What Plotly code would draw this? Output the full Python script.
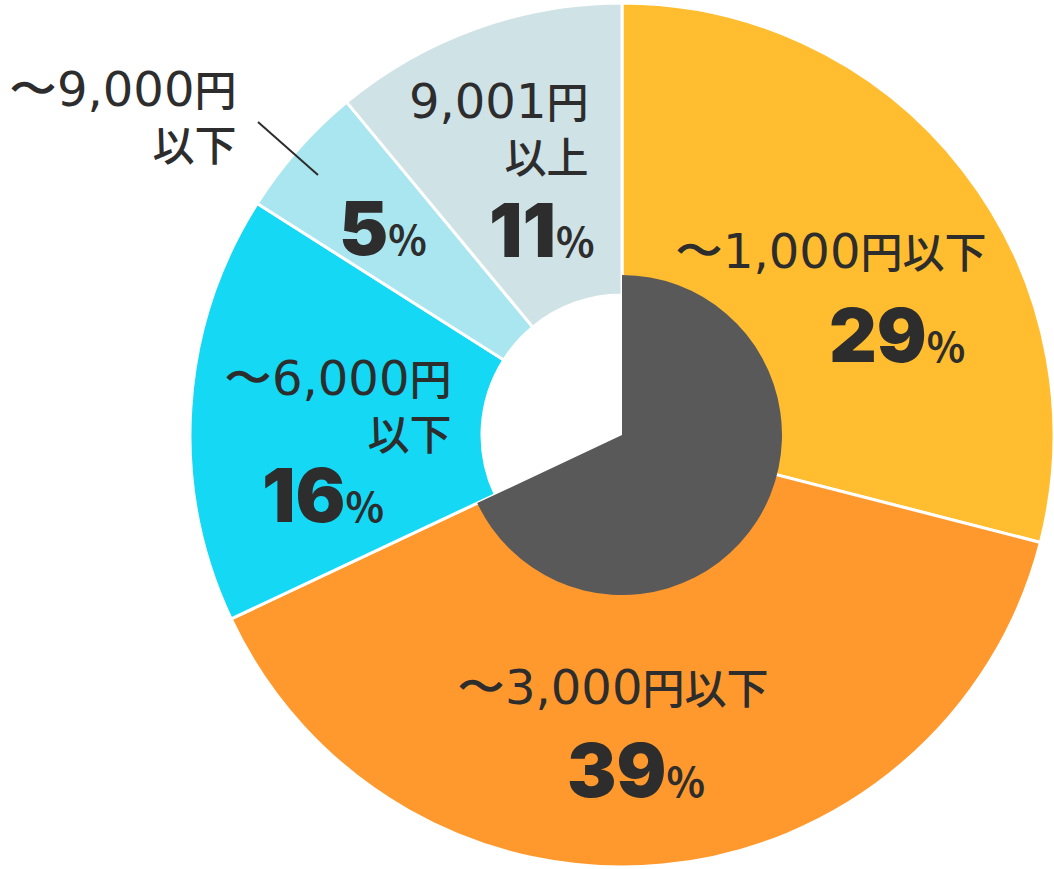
import plotly.graph_objects as go

# slices, clockwise from 12 o'clock
labels = ["〜1,000円以下", "〜3,000円以下", "〜6,000円以下", "〜9,000円以下", "9,001円以上"]
values = [29, 39, 16, 5, 11]
colors = ["#FFBD2F", "#FF992E", "#14D8F4", "#A9E6EF", "#CFE2E5"]

# inner dark sector covers the first two slices
inner_values = [sum(values[:2]), sum(values[2:])]
inner_colors = ["#595959", "rgba(0,0,0,0)"]

W, H = 1054, 869
TXT = "#2D2D2D"
CJK = "Noto Sans CJK JP"


def px(x, y):
    # pixel position -> paper coords
    return x / W, 1 - y / H


def lbl(s):
    # wide tall digits (DejaVu), kanji from the CJK font
    out = ""
    for ch in s:
        if ch in "円以下上":
            out += ch
        elif ch == "\n":
            out += "<br>"
        else:
            out += "<span style='font-size:48px;font-family:DejaVu Sans;font-weight:400'>%s</span>" % ch
    return out


def pct(v):
    return "%d<span style='font-size:40px;font-family:Noto Sans CJK JP;font-weight:700'>%%</span>" % v


fig = go.Figure()

fig.add_trace(go.Pie(
    labels=labels, values=values, sort=False, direction="clockwise", rotation=0,
    hole=140 / 432, textinfo="none", hoverinfo="label+percent",
    marker=dict(colors=colors, line=dict(color="white", width=3)),
    domain=dict(x=[190 / W, 1.0], y=[2 / H, 866 / H]),
    showlegend=False,
))

fig.add_trace(go.Pie(
    values=inner_values, sort=False, direction="clockwise", rotation=0,
    textinfo="none", hoverinfo="skip",
    marker=dict(colors=inner_colors, line=dict(width=0)),
    domain=dict(x=[462 / W, 782 / W], y=[274 / H, 594 / H]),
    showlegend=False,
))

# category labels: (text, x px, y px, xanchor)
names = [
    (lbl("9,001円\n以上"), 590, 127, "right"),
    (lbl("〜9,000円\n以下"), 238, 115, "right"),
    (lbl(labels[0]), 673, 250, "left"),
    (lbl(labels[1]), 455, 685, "left"),
    (lbl("〜6,000円\n以下"), 453, 404, "right"),
]
for text, x, y, xa in names:
    ax, ay = px(x, y)
    fig.add_annotation(
        x=ax, y=ay, xref="paper", yref="paper", text=text, showarrow=False,
        xanchor=xa, yanchor="middle", align=xa,
        font=dict(family=CJK, size=42, color=TXT, weight=500),
    )

# percentages: (value, left x px, y px)
pcts = [
    (values[4], 487, 230),
    (values[3], 337, 228),
    (values[0], 827, 335),
    (values[1], 565, 770),
    (values[2], 260, 495),
]
for v, x, y in pcts:
    ax, ay = px(x, y)
    fig.add_annotation(
        x=ax, y=ay, xref="paper", yref="paper", text=pct(v), showarrow=False,
        xanchor="left", yanchor="middle",
        font=dict(family="Inter, DejaVu Sans", size=74, color=TXT, weight=900),
    )

# leader line for the 5% slice
x0, y0 = px(258, 122)
x1, y1 = px(318, 175)
fig.add_shape(type="line", xref="paper", yref="paper", x0=x0, y0=y0, x1=x1, y1=y1,
              line=dict(color=TXT, width=2))

fig.update_layout(
    width=W, height=H,
    margin=dict(l=0, r=0, t=0, b=0),
    paper_bgcolor="white", plot_bgcolor="white",
)

# page body has an 8px default margin, drop it
fig.write_html("out.html", config={"displayModeBar": False},
               post_script="document.body.style.margin='0';")
